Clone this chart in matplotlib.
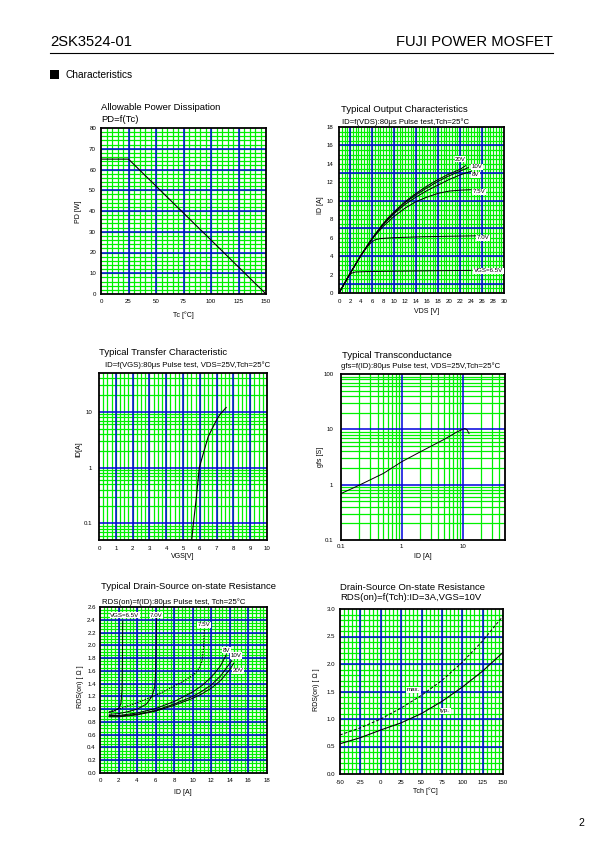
import matplotlib
matplotlib.use('Agg')
import matplotlib.pyplot as plt
import numpy as np
from matplotlib.patches import Rectangle
from matplotlib.lines import Line2D

plt.rcParams['font.family'] = ['Liberation Sans', 'DejaVu Sans']

# ---------------- data ----------------
# 1) Allowable power dissipation
pd_tc = [0, 25, 150]
pd_w = [65, 65, 0]

# 2) Output characteristics (ID vs VDS) per VGS
out_vgs_labels = ['20V', '10V', '8V', '7.5V', '7.0V', 'VGS=6.5V']
out_20_vds = [0, 1, 2, 3, 4, 5, 6, 7, 8, 9, 10, 12, 14, 16, 18, 20, 22, 23]
out_20_id = [0, 1.05, 2.1, 3.1, 4.1, 5.0, 5.9, 6.7, 7.5, 8.2, 8.8, 9.9, 10.8, 11.6, 12.3, 12.9, 13.4, 13.8]
out_10_vds = [0, 1, 2, 3, 4, 5, 6, 7, 8, 9, 10, 12, 14, 16, 18, 20, 22, 23.5]
out_10_id = [0, 1.05, 2.1, 3.1, 4.1, 5.0, 5.9, 6.7, 7.45, 8.1, 8.7, 9.8, 10.65, 11.4, 12.1, 12.7, 13.2, 13.6]
out_8_vds = [0, 1, 2, 3, 4, 5, 6, 7, 8, 10, 12, 14, 16, 18, 20, 22, 24]
out_8_id = [0, 1.05, 2.1, 3.1, 4.1, 5.0, 5.85, 6.65, 7.4, 8.6, 9.6, 10.4, 11.1, 11.7, 12.3, 12.8, 13.2]
out_75_vds = [0, 1, 2, 3, 4, 5, 6, 8, 10, 12, 14, 16, 18, 20, 22, 24]
out_75_id = [0, 1.05, 2.1, 3.1, 4.1, 5.0, 5.85, 7.2, 8.3, 9.2, 9.9, 10.4, 10.8, 11.05, 11.15, 11.2]
out_70_vds = [0, 1, 2, 3, 4, 5, 5.8, 6.5, 7.5, 10, 15, 20, 25]
out_70_id = [0, 1.05, 2.1, 3.1, 4.05, 4.9, 5.45, 5.75, 5.9, 6.0, 6.1, 6.15, 6.2]
out_65_vds = [0, 1, 1.8, 2.3, 3, 5, 10, 15, 20, 24]
out_65_id = [0, 1.0, 1.85, 2.15, 2.28, 2.32, 2.36, 2.4, 2.43, 2.45]

# 3) Transfer characteristic
tr_vgs = [5.52, 5.62, 5.8, 5.97, 6.2, 6.5, 7.0, 7.2, 7.57]
tr_id = [0.05, 0.1, 0.3, 1.0, 1.75, 3.6, 7.2, 9.0, 12.0]

# 4) Transconductance
gfs_id = [0.1, 0.2, 0.5, 1, 2, 5, 8, 10, 10.9, 11.8, 12.8]
gfs_s = [0.69, 0.98, 1.6, 2.6, 3.9, 6.6, 8.9, 10.0, 10.3, 9.9, 8.4]

# 5) RDS(on) vs ID
r65_id = [1.0, 1.5, 2.0, 2.25, 2.38, 2.42, 2.45]
r65_r = [0.95, 0.97, 1.01, 1.08, 1.3, 1.8, 2.38]
r70_id = [1.0, 2.0, 3.0, 4.0, 5.0, 5.6, 5.9, 6.0, 6.05, 6.1]
r70_r = [0.92, 0.93, 0.96, 1.0, 1.08, 1.2, 1.35, 1.6, 2.0, 2.42]
r75_id = [1, 2, 3, 4, 5.2, 6.5, 7.6, 9, 10.1, 10.6, 11.0, 11.15, 11.25]
r75_r = [0.96, 1.0, 1.05, 1.1, 1.17, 1.25, 1.33, 1.44, 1.54, 1.62, 1.75, 1.95, 2.25]
r8_id = [1, 2, 4, 6, 8, 10, 11, 12, 13, 13.6]
r8_r = [0.9, 0.9, 0.94, 1.01, 1.12, 1.27, 1.37, 1.5, 1.68, 1.85]
r10_id = [1, 2, 4, 6, 8, 10, 11, 12, 13, 14, 14.2]
r10_r = [0.89, 0.89, 0.92, 0.98, 1.08, 1.2, 1.28, 1.38, 1.52, 1.72, 1.76]
r20_id = [1, 2, 4, 6, 8, 10, 11, 12, 13, 14, 14.4]
r20_r = [0.88, 0.88, 0.91, 0.97, 1.06, 1.17, 1.24, 1.33, 1.45, 1.62, 1.72]

# 6) RDS(on) vs Tch
tch = [-50, -25, 0, 25, 50, 75, 100, 125, 150]
rds_typ = [0.55, 0.66, 0.8, 0.93, 1.1, 1.32, 1.58, 1.87, 2.21]
rds_max = [0.71, 0.84, 1.0, 1.2, 1.43, 1.7, 2.03, 2.42, 2.87]

# ---------------- figure ----------------
W, H = 595, 842
fig = plt.figure(figsize=(W / 100, H / 100), dpi=100)
fig.patch.set_facecolor('white')

GREEN = '#00f000'
BLUE = '#0000dd'
TS = 6.8    # title size
SS = 5.6    # subtitle size
LS = 5.0    # axis label size
KS = 4.4    # tick label size
CS = 4.4    # curve label size


def add_ax(x0, y0, x1, y1):
    return fig.add_axes([x0 / W, 1 - y1 / H, (x1 - x0) / W, (y1 - y0) / H])


def ftext(x, y, s, size, ha='left', va='center', rot=0, **kw):
    fig.text(x / W, 1 - y / H, s, fontsize=size, ha=ha, va=va, rotation=rot, **kw)


def style(ax, xt, xl, yt, yl, xpad, ypad):
    ax.set_xticks(xt)
    ax.set_xticklabels(xl)
    ax.set_yticks(yt)
    ax.set_yticklabels(yl)
    ax.minorticks_off()
    ax.tick_params(axis='x', length=0, labelsize=KS, pad=xpad)
    ax.tick_params(axis='y', length=0, labelsize=KS, pad=ypad)
    for s in ax.spines.values():
        s.set_linewidth(1.3)
        s.set_color('black')
        s.set_zorder(5)


def grid(ax, xmin, xmaj, ymin, ymaj):
    for v in xmin:
        ax.axvline(v, color=GREEN, lw=0.9, zorder=1)
    for v in ymin:
        ax.axhline(v, color=GREEN, lw=0.9, zorder=1)
    for v in xmaj:
        ax.axvline(v, color=BLUE, lw=1.1, zorder=2)
    for v in ymaj:
        ax.axhline(v, color=BLUE, lw=1.1, zorder=2)


def lab(ax, x, y, s):
    ax.text(x, y, s, fontsize=CS, ha='left', va='center', zorder=6,
            bbox=dict(facecolor='white', edgecolor='none', pad=0.4))


# header
ftext(50, 41.5, '2SK3524-01', 10.6)
ftext(553, 41.5, 'FUJI POWER MOSFET', 10.6, ha='right')
fig.add_artist(Line2D([50 / W, 553 / W], [1 - 52.5 / H, 1 - 52.5 / H], color='black', lw=0.8))
fig.add_artist(Rectangle((50 / W, 1 - 79 / H), 8.5 / W, 9 / H, facecolor='black', edgecolor='none'))
ftext(66, 74.5, 'Characteristics', 7.3)
ftext(578, 823, '2', 7.5)

# ---- chart 1 ----
ax1 = add_ax(101, 128, 266, 294)
ax1.set_xlim(0, 150)
ax1.set_ylim(0, 80)
grid(ax1, np.arange(5, 150, 5), np.arange(25, 150, 25), np.arange(2, 80, 2), np.arange(10, 80, 10))
ax1.plot(pd_tc, pd_w, color='black', lw=0.8, zorder=4)
style(ax1, np.arange(0, 151, 25), [str(v) for v in range(0, 151, 25)],
      np.arange(0, 81, 10), [str(v) for v in range(0, 81, 10)], 3.4, 3.6)
ftext(101, 107.7, 'Allowable Power Dissipation', TS)
ftext(101, 120, 'PD=f(Tc)', TS)
ftext(183, 315, 'Tc [°C]', LS, ha='center')
ftext(79, 212, 'PD [W]', LS, ha='center', rot=90)

# ---- chart 2 ----
ax2 = add_ax(339, 127, 504, 293)
ax2.set_xlim(0, 30)
ax2.set_ylim(0, 18)
grid(ax2, np.arange(0.5, 30, 0.5), np.arange(2, 30, 4), np.arange(0.5, 18, 0.5), np.arange(1, 18, 3))
for xs, ys in [(out_20_vds, out_20_id), (out_10_vds, out_10_id), (out_8_vds, out_8_id),
               (out_75_vds, out_75_id), (out_70_vds, out_70_id), (out_65_vds, out_65_id)]:
    ax2.plot(xs, ys, color='black', lw=0.7, zorder=4)
lab_pos2 = [(21.1, 14.5), (24.1, 13.7), (24.1, 12.8), (24.3, 11.0), (25.0, 6.0), (24.5, 2.4)]
for (x, y), s in zip(lab_pos2, out_vgs_labels):
    lab(ax2, x, y, s)
style(ax2, np.arange(0, 31, 2), [str(v) for v in range(0, 31, 2)],
      np.arange(0, 19, 2), [str(v) for v in range(0, 19, 2)], 4.0, 4.0)
ftext(340.7, 109, 'Typical Output Characteristics', TS)
ftext(341.7, 121.7, 'ID=f(VDS):80μs Pulse test,Tch=25°C', SS)
ftext(427, 311.7, 'VDS [V]', LS, ha='center')
ftext(321, 205, 'ID [A]', LS, ha='center', rot=90)

# ---- chart 3 ----
ax3 = add_ax(99, 373, 267, 540)
ax3.set_yscale('log')
ax3.set_xlim(0, 10)
ax3.set_ylim(0.05, 50)
ymin3 = [m * d for d in (0.01, 0.1, 1, 10) for m in range(2, 10) if 0.05 < m * d < 50]
grid(ax3, np.arange(0.25, 10, 0.25), np.arange(1, 10, 1), ymin3, [0.1, 1, 10])
ax3.plot(tr_vgs, tr_id, color='black', lw=0.8, zorder=4)
style(ax3, np.arange(0, 11, 1), [str(v) for v in range(0, 11)],
      [0.1, 1, 10], ['0.1', '1', '10'], 4.0, 4.8)
ftext(99, 352.7, 'Typical Transfer Characteristic', TS)
ftext(105, 365, 'ID=f(VGS):80μs Pulse test, VDS=25V,Tch=25°C', SS)
ftext(183, 556.7, 'VGS[V]', LS, ha='center')
ftext(79, 449, 'ID[A]', LS, ha='center', rot=90)

# ---- chart 4 ----
ax4 = add_ax(341, 374, 505, 540)
ax4.set_xscale('log')
ax4.set_yscale('log')
ax4.set_xlim(0.1, 50)
ax4.set_ylim(0.1, 100)
xmin4 = [m * d for d in (0.1, 1, 10) for m in range(2, 10) if m * d < 50]
ymin4 = [m * d for d in (0.1, 1, 10) for m in range(2, 10)]
grid(ax4, xmin4, [1, 10], ymin4, [1, 10])
ax4.plot(gfs_id, gfs_s, color='black', lw=0.7, zorder=4)
style(ax4, [0.1, 1, 10], ['0.1', '1', '10'],
      [0.1, 1, 10, 100], ['0.1', '1', '10', '100'], 3.2, 5.6)
ftext(341.7, 355.7, 'Typical Transconductance', TS)
ftext(340.7, 365.7, 'gfs=f(ID):80μs Pulse test, VDS=25V,Tch=25°C', SS)
ftext(423, 556.7, 'ID [A]', LS, ha='center')
ftext(321, 457, 'gfs [S]', LS, ha='center', rot=90)

# ---- chart 5 ----
ax5 = add_ax(100, 607, 267, 773)
ax5.set_xlim(0, 18)
ax5.set_ylim(0, 2.6)
grid(ax5, np.arange(0.4, 18, 0.4), np.arange(2, 18, 2), np.arange(0.05, 2.6, 0.05), np.arange(0.2, 2.6, 0.2))
for xs, ys in [(r65_id, r65_r), (r70_id, r70_r), (r8_id, r8_r), (r10_id, r10_r), (r20_id, r20_r)]:
    ax5.plot(xs, ys, color='black', lw=0.7, zorder=4)
ax5.plot(r75_id, r75_r, color='black', lw=0.8, ls=(0, (1.2, 1.2)), zorder=4)
rds_labels = ['VGS=6.5V', '7.0V', '7.5V', '8V', '10V', '20V']
lab_pos5 = [(1.1, 2.47), (5.4, 2.47), (10.5, 2.32), (13.2, 1.92), (14.1, 1.84), (14.3, 1.6)]
for (x, y), s in zip(lab_pos5, rds_labels):
    lab(ax5, x, y, s)
style(ax5, np.arange(0, 19, 2), [str(v) for v in range(0, 19, 2)],
      np.arange(0, 2.61, 0.2), ['%.1f' % v for v in np.arange(0, 2.61, 0.2)], 3.6, 3.0)
ftext(100.7, 586.7, 'Typical Drain-Source on-state Resistance', TS)
ftext(101.7, 601.7, 'RDS(on)=f(ID):80μs Pulse test, Tch=25°C', SS)
ftext(183, 793, 'ID [A]', LS, ha='center')
ftext(80, 687, 'RDS(on) [ Ω ]', LS, ha='center', rot=90)

# ---- chart 6 ----
ax6 = add_ax(340, 609, 503, 774)
ax6.set_xlim(-50, 150)
ax6.set_ylim(0, 3.0)
grid(ax6, np.arange(-45, 150, 5), np.arange(-25, 150, 25), np.arange(0.1, 3.0, 0.1), np.arange(0.5, 3.0, 0.5))
ax6.plot(tch, rds_max, color='black', lw=0.7, ls=(0, (3, 2)), zorder=4)
ax6.plot(tch, rds_typ, color='black', lw=0.8, zorder=4)
lab(ax6, 32, 1.53, 'max.')
lab(ax6, 73, 1.15, 'typ.')
style(ax6, np.arange(-50, 151, 25), [str(v) for v in range(-50, 151, 25)],
      np.arange(0, 3.01, 0.5), ['%.1f' % v for v in np.arange(0, 3.01, 0.5)], 4.0, 3.6)
ftext(340, 587.3, 'Drain-Source On-state Resistance', TS)
ftext(340, 597.5, 'RDS(on)=f(Tch):ID=3A,VGS=10V', TS)
ftext(425, 791, 'Tch [°C]', LS, ha='center')
ftext(317, 690, 'RDS(on) [ Ω ]', LS, ha='center', rot=90)

fig.savefig('out.png', dpi=100)
